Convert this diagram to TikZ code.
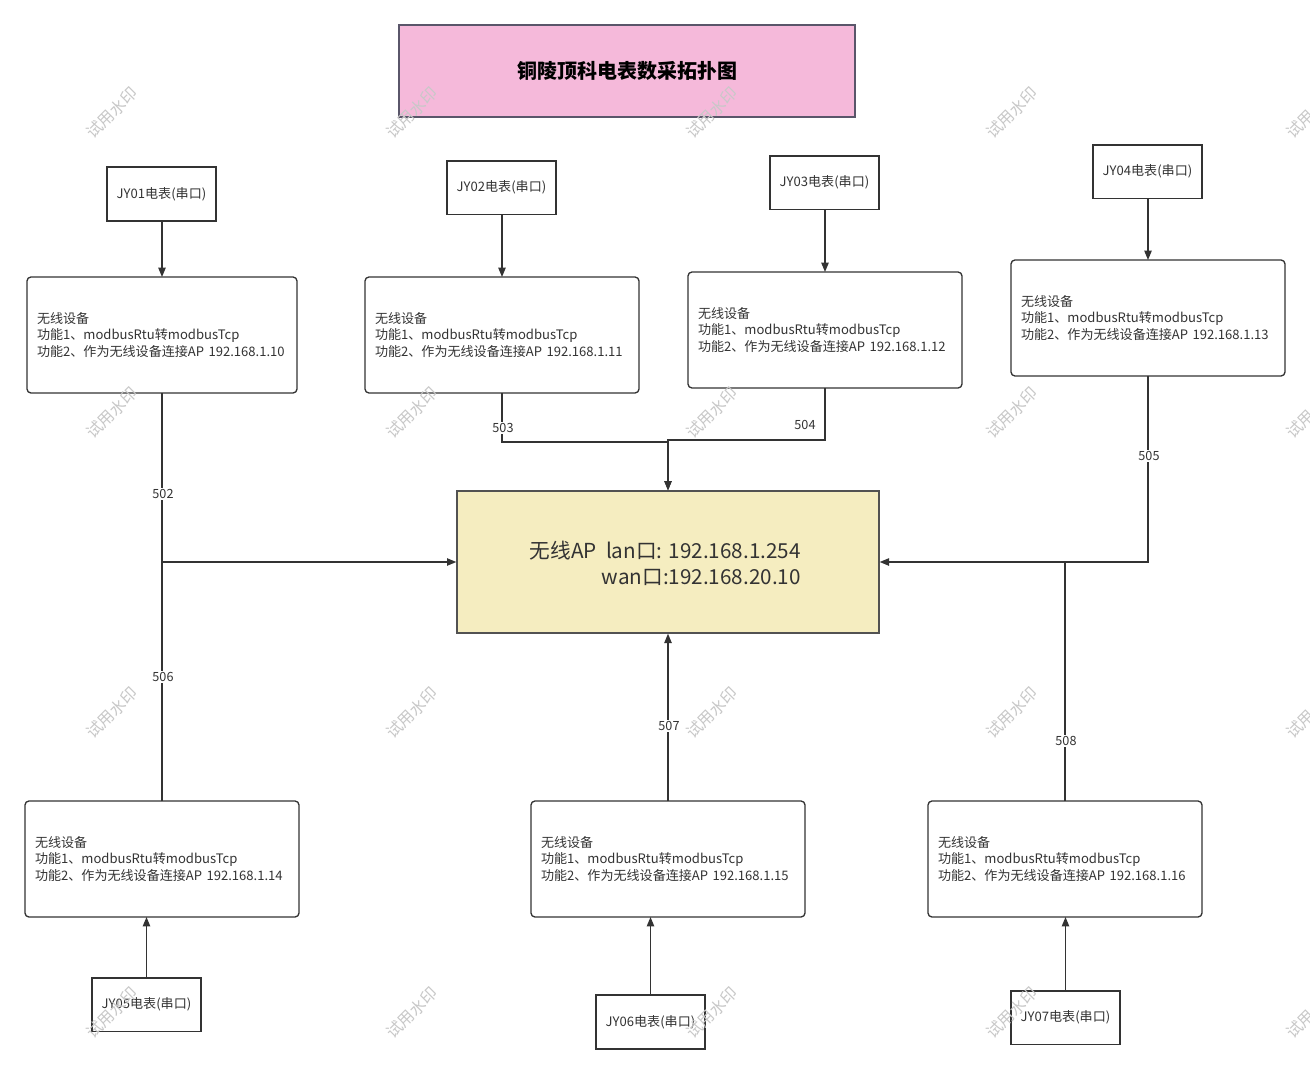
\documentclass[tikz,border=0pt]{standalone}
\usepackage{fontspec}
\setmainfont{Noto Sans CJK SC}
\usetikzlibrary{arrows.meta}
\definecolor{linec}{HTML}{333333}
\definecolor{pinkf}{HTML}{F5B9DA}
\definecolor{pinkd}{HTML}{5A566A}
\definecolor{apf}{HTML}{F5EDC0}
\definecolor{wmc}{HTML}{C8C8C8}
\tikzset{
  meter/.style={draw=linec, line width=1pt, inner sep=0pt, outer sep=0pt,
    font=\fontsize{9.8}{11}\selectfont, text=linec},
  wdev/.style={draw=linec, line width=1pt, rounded corners=3pt, inner ysep=0pt, inner xsep=7.5pt,
    outer sep=0pt, minimum height=87pt, align=left,
    font=\fontsize{9.8}{12.4}\selectfont, text=linec},
  conn/.style={draw=linec, line width=1pt, -{Triangle[length=7pt,width=5.5pt]}},
  plain/.style={draw=linec, line width=1pt},
  lbl/.style={fill=white, inner sep=1pt, font=\fontsize{9.5}{11}\selectfont, text=linec},
  wm/.style={rotate=45, text=wmc, font=\fontsize{12}{14}\selectfont}
}
\begin{document}
\begin{tikzpicture}[x=0.75pt,y=-0.75pt]
\useasboundingbox[fill=white] (0,0) rectangle (1310,1074);

% title
\node[draw=pinkd, fill=pinkf, line width=1pt, minimum width=342pt, minimum height=69pt, inner sep=0pt,
  font=\fontsize{15}{18}\selectfont\bfseries] (title) at (627,71) {铜陵顶科电表数采拓扑图};

% meters
\node[meter, minimum width=81.75pt, minimum height=40.5pt] (jy1) at (161.5,194) {JY01电表(串口)};
\node[meter, minimum width=81.75pt, minimum height=40pt] (jy2) at (501.5,187.5) {JY02电表(串口)};
\node[meter, minimum width=81.75pt, minimum height=40pt] (jy3) at (824.5,182.5) {JY03电表(串口)};
\node[meter, minimum width=81.75pt, minimum height=40pt] (jy4) at (1147.5,171.5) {JY04电表(串口)};
\node[meter, minimum width=81.75pt, minimum height=40pt] (jy5) at (146.5,1004.5) {JY05电表(串口)};
\node[meter, minimum width=81.75pt, minimum height=40.5pt] (jy6) at (650.5,1022) {JY06电表(串口)};
\node[meter, minimum width=81.75pt, minimum height=40pt] (jy7) at (1065.5,1017.5) {JY07电表(串口)};

% wireless devices
\node[wdev, text width=187.5pt] (w1) at (162,335) {无线设备\\功能1、modbusRtu转modbusTcp\\功能2、作为无线设备连接AP 192.168.1.10};
\node[wdev, text width=190.5pt] (w2) at (502,335) {无线设备\\功能1、modbusRtu转modbusTcp\\功能2、作为无线设备连接AP 192.168.1.11};
\node[wdev, text width=190.5pt] (w3) at (825,330) {无线设备\\功能1、modbusRtu转modbusTcp\\功能2、作为无线设备连接AP 192.168.1.12};
\node[wdev, text width=190.5pt] (w4) at (1148,318) {无线设备\\功能1、modbusRtu转modbusTcp\\功能2、作为无线设备连接AP 192.168.1.13};
\node[wdev, text width=190.5pt] (w5) at (162,859) {无线设备\\功能1、modbusRtu转modbusTcp\\功能2、作为无线设备连接AP 192.168.1.14};
\node[wdev, text width=190.5pt] (w6) at (668,859) {无线设备\\功能1、modbusRtu转modbusTcp\\功能2、作为无线设备连接AP 192.168.1.15};
\node[wdev, text width=190.5pt] (w7) at (1065,859) {无线设备\\功能1、modbusRtu转modbusTcp\\功能2、作为无线设备连接AP 192.168.1.16};

% AP
\node[draw=linec!85, fill=apf, line width=1pt, minimum width=316.5pt, minimum height=106.5pt, inner sep=0pt] (ap) at (668,562) {};
\node[align=right, font=\fontsize{15.5}{19.5}\selectfont, text=linec, inner sep=0pt, anchor=east] (aptext) at (801,563) {无线AP\ \ lan口: 192.168.1.254\\wan口:192.168.20.10};

% meter -> device
\draw[conn] (jy1.south -| w1.south) -- (w1.north);
\draw[conn] (jy2.south -| w2.south) -- (w2.north);
\draw[conn] (jy3.south -| w3.south) -- (w3.north);
\draw[conn] (jy4.south -| w4.south) -- (w4.north);
\draw[conn] (jy5.north) -- (jy5.north |- w5.south);
\draw[conn] (jy6.north) -- (jy6.north |- w6.south);
\draw[conn] (jy7.north) -- (jy7.north |- w7.south);

% devices -> AP
\draw[conn] (w1.south) |- (ap.west);
\draw[plain] (w5.north) -- (w5.north |- ap.west);
\draw[conn] (w2.south) -- (w2.south |- 0,442) -| (ap.north);
\draw[conn] (w3.south) -- (w3.south |- 0,440) -| (ap.north);
\draw[conn] (w4.south) |- (ap.east);
\draw[plain] (w7.north) -- (w7.north |- ap.east);
\draw[conn] (w6.north) -- (ap.south);

% labels
\node[lbl] (l502) at (163,494) {502};
\node[lbl] (l503) at (503,428) {503};
\node[lbl] (l504) at (805,425) {504};
\node[lbl] (l505) at (1149,456) {505};
\node[lbl] (l506) at (163,677) {506};
\node[lbl] (l507) at (669,726) {507};
\node[lbl] (l508) at (1066,741) {508};

% watermarks
\foreach \yy in {113,413,713,1013} {
  \foreach \xx in {112,412,712,1012,1312} {
    \node[wm] at (\xx,\yy) {试用水印};
  }
}
\end{tikzpicture}
\end{document}
